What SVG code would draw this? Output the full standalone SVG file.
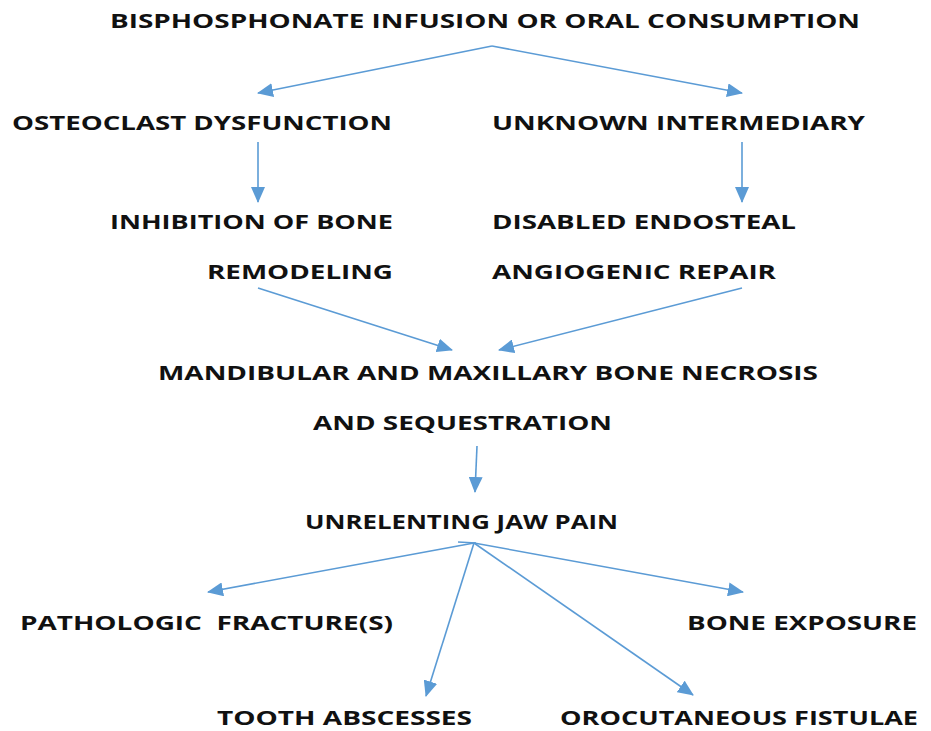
<svg xmlns="http://www.w3.org/2000/svg" width="931" height="731" viewBox="0 0 931 731">
<style>
text{font-family:"Open Sans","Liberation Sans",sans-serif;font-weight:700;font-size:19px;fill:#111;}
.c line{stroke:#5b9bd5;stroke-width:1.6;fill:none;}
</style>
<defs>
<marker id="a" viewBox="0 0 16 14" refX="15" refY="7" markerWidth="16" markerHeight="14" orient="auto" markerUnits="userSpaceOnUse">
<path d="M0,0 L16,7 L0,14 Z" fill="#5b9bd5"/>
</marker>
</defs>
<rect width="931" height="731" fill="#fff"/>
<g id="n1"><text x="110" y="28" textLength="750" lengthAdjust="spacingAndGlyphs">BISPHOSPHONATE INFUSION OR ORAL CONSUMPTION</text></g>
<g id="n2"><text x="12" y="130" textLength="380" lengthAdjust="spacingAndGlyphs">OSTEOCLAST DYSFUNCTION</text></g>
<g id="n3"><text x="492" y="130" textLength="373" lengthAdjust="spacingAndGlyphs">UNKNOWN INTERMEDIARY</text></g>
<g id="n4"><text x="110" y="229" textLength="283" lengthAdjust="spacingAndGlyphs">INHIBITION OF BONE</text><text x="207" y="279" textLength="186" lengthAdjust="spacingAndGlyphs">REMODELING</text></g>
<g id="n5"><text x="492" y="229" textLength="304" lengthAdjust="spacingAndGlyphs">DISABLED ENDOSTEAL</text><text x="492" y="279" textLength="284" lengthAdjust="spacingAndGlyphs">ANGIOGENIC REPAIR</text></g>
<g id="n6"><text x="158" y="380" textLength="660" lengthAdjust="spacingAndGlyphs">MANDIBULAR AND MAXILLARY BONE NECROSIS</text><text x="313" y="430" textLength="299" lengthAdjust="spacingAndGlyphs">AND SEQUESTRATION</text></g>
<g id="n7"><text x="305" y="529" textLength="313" lengthAdjust="spacingAndGlyphs">UNRELENTING JAW PAIN</text></g>
<g id="n8"><text x="20" y="630" textLength="373" lengthAdjust="spacingAndGlyphs" style="white-space:pre" xml:space="preserve">PATHOLOGIC  FRACTURE(S)</text></g>
<g id="n9"><text x="687" y="630" textLength="230" lengthAdjust="spacingAndGlyphs">BONE EXPOSURE</text></g>
<g id="n10"><text x="217" y="725" textLength="255" lengthAdjust="spacingAndGlyphs">TOOTH ABSCESSES</text></g>
<g id="n11"><text x="560" y="725" textLength="358" lengthAdjust="spacingAndGlyphs">OROCUTANEOUS FISTULAE</text></g>
<g id="connectors" class="c">
<line x1="492" y1="46" x2="258" y2="93" marker-end="url(#a)"/>
<line x1="492" y1="46" x2="742" y2="93" marker-end="url(#a)"/>
<line x1="258" y1="142" x2="258" y2="202" marker-end="url(#a)"/>
<line x1="742" y1="142" x2="742" y2="202" marker-end="url(#a)"/>
<line x1="258" y1="288" x2="452" y2="350" marker-end="url(#a)"/>
<line x1="742" y1="288" x2="499" y2="350" marker-end="url(#a)"/>
<line x1="477" y1="446" x2="475" y2="492" marker-end="url(#a)"/>
<line x1="474" y1="543" x2="208" y2="592" marker-end="url(#a)"/>
<line x1="474" y1="543" x2="426" y2="696" marker-end="url(#a)"/>
<line x1="474" y1="543" x2="693" y2="695" marker-end="url(#a)"/>
<line x1="474" y1="543" x2="743" y2="592" marker-end="url(#a)"/>
<line x1="458" y1="542" x2="476" y2="543"/>
</g>
</svg>
